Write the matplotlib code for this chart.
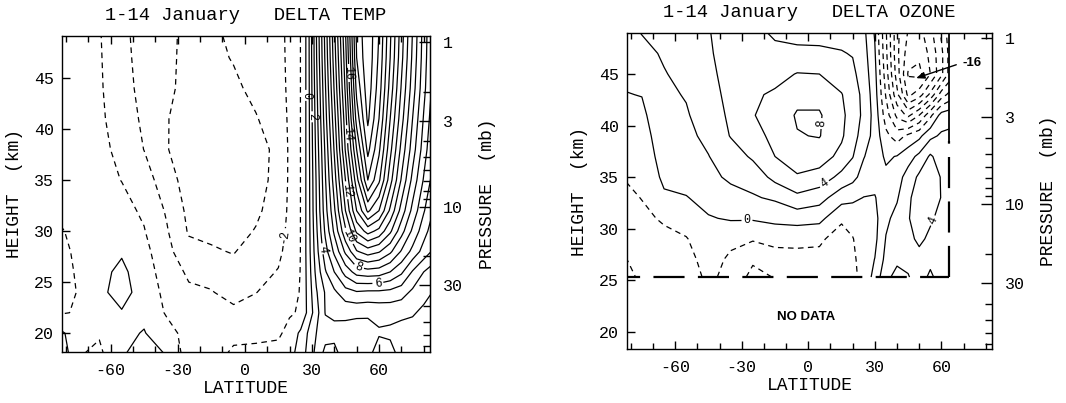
import numpy as np
import matplotlib
matplotlib.use("Agg")
import matplotlib.pyplot as plt
from matplotlib.ticker import FixedLocator, MultipleLocator, NullFormatter

plt.rcParams["font.family"] = ["Liberation Mono", "DejaVu Sans Mono"]

# ---------------------------------------------------------------------------
# Delta temperature (K), 1-14 January
# ---------------------------------------------------------------------------
temp_lat = [-85, -75, -65, -55, -45, -35, -25, -15, -5, 5, 15, 20, 25,
            28, 32, 36, 40, 45, 50, 55, 60, 65, 70, 75, 80, 85]
temp_height = [18, 20, 22, 24, 26, 28, 30, 32, 35, 38, 41, 44, 47, 50]
# one vertical profile per latitude (bottom to top)
temp_profiles = [
    [1.5, 0.6, -1.2, -1.6, -1.6, -1.5, -1.2, -0.9, -0.8, -0.7, -0.65, -0.6, -0.6, -0.6],
    [-0.9, -0.7, -0.9, -0.98, -0.9, -0.8, -0.75, -0.7, -0.65, -0.6, -0.55, -0.5, -0.5, -0.5],
    [-1.2, -0.9, -0.6, -0.15, -0.25, -0.5, -0.6, -0.65, -0.7, -0.8, -0.85, -0.9, -0.92, -0.95],
    [-0.1, -0.2, -0.05, 0.25, 0.2, -0.1, -0.4, -0.7, -1.02, -1.2, -1.4, -1.5, -1.6, -1.7],
    [0.4, 0.05, -0.2, -0.3, -0.5, -0.7, -0.95, -1.15, -1.5, -2.02, -2.2, -2.4, -2.5, -2.55],
    [-0.05, -0.6, -1.1, -1.3, -1.5, -1.7, -1.9, -2.1, -2.6, -2.95, -2.95, -2.8, -2.75, -2.8],
    [-1.5, -1.4, -1.6, -1.85, -2.15, -2.7, -3.1, -3.25, -3.4, -3.45, -3.4, -3.3, -3.3, -3.2],
    [-1.5, -1.6, -1.75, -1.95, -2.3, -2.9, -3.2, -3.35, -3.5, -3.55, -3.5, -3.35, -3.2, -3.1],
    [-0.8, -1.3, -1.8, -2.3, -2.7, -3.05, -3.3, -3.45, -3.5, -3.45, -3.35, -3.15, -2.95, -2.85],
    [-0.8, -1.2, -1.6, -2.02, -2.3, -2.6, -2.95, -3.15, -3.3, -3.3, -3.05, -2.8, -2.6, -2.5],
    [-0.7, -1.15, -1.4, -1.65, -1.95, -2.2, -2.4, -2.6, -2.75, -2.8, -2.6, -2.4, -2.3, -2.25],
    [-0.4, -0.7, -1.1, -1.3, -1.5, -1.65, -1.75, -1.8, -1.85, -1.85, -1.82, -1.8, -1.8, -1.8],
    [0.5, 0.2, -0.9, -0.95, -0.97, -0.98, -0.98, -0.98, -0.98, -0.98, -0.98, -0.98, -0.98, -0.98],
    [1.2, 1.0, 0.15, 0.2, 0.25, 0.3, 0.3, 0.3, 0.3, 0.3, 0.3, 0.3, 0.3, 0.3],
    [2.3, 2.0, 1.6, 1.9, 2.3, 2.6, 2.8, 3.0, 3.1, 3.3, 3.5, 3.7, 3.9, 4.0],
    [3.3, 2.6, 3.05, 3.1, 3.9, 4.6, 5.2, 5.6, 5.9, 6.2, 6.6, 6.9, 7.2, 7.4],
    [3.3, 2.7, 3.2, 3.8, 5.0, 6.2, 7.2, 7.8, 8.5, 9.1, 9.6, 10.1, 10.5, 10.8],
    [2.5, 2.6, 3.25, 4.6, 6.4, 8.2, 9.8, 11.0, 12.0, 13.1, 13.6, 14.2, 14.6, 15.0],
    [2.3, 2.5, 3.2, 4.9, 7.4, 9.9, 12.2, 14.0, 15.6, 17.0, 18.4, 19.3, 20.0, 20.3],
    [2.7, 2.6, 3.15, 4.8, 7.6, 10.5, 13.4, 16.2, 19.0, 20.3, 21.2, 21.6, 21.8, 21.8],
    [3.5, 2.9, 3.25, 4.8, 7.5, 10.1, 12.7, 15.0, 17.2, 18.2, 19.0, 19.5, 19.8, 20.0],
    [3.4, 2.8, 3.3, 4.7, 7.0, 9.2, 11.2, 12.8, 14.4, 15.3, 16.0, 16.6, 17.0, 17.2],
    [2.6, 2.5, 3.3, 4.4, 6.2, 7.9, 9.4, 10.6, 11.9, 12.7, 13.4, 13.9, 14.3, 14.5],
    [2.4, 2.6, 3.1, 3.8, 4.9, 6.7, 7.8, 8.7, 9.7, 10.5, 11.0, 11.5, 11.8, 12.0],
    [2.5, 2.7, 2.8, 3.3, 4.0, 5.6, 6.4, 7.1, 7.9, 8.5, 8.9, 9.3, 9.5, 9.6],
    [2.5, 2.6, 2.5, 2.9, 3.4, 4.7, 5.3, 5.8, 6.4, 6.8, 7.1, 7.4, 7.5, 7.6],
]
temp_levels = list(range(-3, 23))
temp_label_levels = [-2, 0, 2, 4, 6, 8, 10, 12, 14, 16]
temp_label_spots = [(18, 29.4), (26.8, 43.3), (30.5, 41.2), (36.6, 28.3),
                    (59.5, 25.0), (51, 26.6), (46.4, 29.5), (45.5, 34.0),
                    (46, 39.5), (47, 45.5)]

# ---------------------------------------------------------------------------
# Delta ozone (%), 1-14 January -- data only above 30 mb and south of 63.5N
# ---------------------------------------------------------------------------
ozone_lat = [-85, -75, -65, -55, -45, -35, -25, -15, -5, 5, 15, 20, 25,
             30, 35, 40, 45, 50, 55, 60, 63.5]
ozone_height = [25.3, 27, 29, 31, 33, 35, 37, 39, 41, 43, 45, 47, 49.5]
ozone_profiles = [
    [-5.0, -4.4, -3.6, -3.0, -2.5, -2.05, -1.6, -1.1, -0.6, -0.1, 0.3, 0.8, 1.4],
    [-3.6, -3.2, -2.8, -2.35, -1.95, -1.55, -1.15, -0.8, -0.4, 0.05, 0.7, 1.5, 2.2],
    [-3.3, -2.9, -2.4, -1.8, -0.3, 0.4, 0.8, 1.1, 1.4, 1.7, 1.9, 2.2, 2.5],
    [-3.0, -2.6, -2.1, -1.2, -0.1, 0.8, 1.3, 1.6, 1.85, 2.1, 2.5, 2.9, 3.1],
    [-1.6, -1.3, -0.9, -0.15, 0.7, 1.4, 1.95, 2.4, 2.8, 3.2, 3.55, 3.8, 3.95],
    [-2.6, -2.3, -1.6, 0.2, 1.2, 2.4, 3.0, 4.1, 4.4, 4.6, 4.7, 4.7, 4.6],
    [-4.6, -3.7, -1.8, 0.2, 1.8, 2.8, 4.3, 5.2, 5.9, 5.7, 5.0, 4.6, 4.3],
    [-3.9, -3.0, -1.3, 0.5, 2.3, 4.6, 6.0, 6.6, 6.8, 6.3, 5.3, 4.4, 3.6],
    [-3.2, -2.6, -1.5, 0.8, 3.5, 5.8, 7.0, 7.9, 8.2, 7.4, 6.1, 4.4, 3.2],
    [-2.9, -2.5, -1.7, 0.6, 2.8, 5.2, 7.0, 8.1, 8.2, 7.4, 6.0, 4.3, 3.3],
    [-3.5, -3.2, -2.8, -1.7, 0.8, 3.4, 5.4, 6.3, 6.5, 6.1, 5.0, 4.1, 3.3],
    [-2.6, -2.4, -2.1, -1.2, 0.4, 2.6, 4.1, 4.7, 5.0, 4.9, 4.4, 3.9, 3.2],
    [-1.2, -1.1, -0.9, -0.5, -0.05, 1.2, 2.1, 3.2, 3.6, 3.5, 3.1, 2.8, 2.4],
    [0.6, 0.05, -0.5, -0.6, -0.1, 0.6, 1.0, 1.2, 1.2, 0.9, 0.6, 0.2, -0.3],
    [3.6, 2.6, 2.1, 1.6, 1.0, 0.4, -0.3, -1.5, -3.0, -4.2, -5.0, -5.5, -5.8],
    [4.5, 3.7, 3.0, 2.6, 1.8, 1.2, 0.1, -3.0, -6.5, -9.5, -11.0, -11.5, -11.5],
    [4.1, 3.6, 3.6, 3.9, 3.7, 2.8, 1.2, -1.5, -8.5, -14.5, -16.2, -15.0, -14.0],
    [3.3, 3.5, 4.3, 4.7, 4.8, 4.4, 2.5, -0.5, -6.0, -13.0, -16.6, -15.5, -14.5],
    [4.3, 3.6, 3.7, 4.2, 4.7, 4.8, 4.3, 1.5, -2.5, -9.5, -14.0, -13.5, -12.5],
    [3.3, 3.2, 3.3, 3.6, 3.95, 3.9, 3.0, 2.3, 0.8, -5.0, -10.5, -10.5, -9.5],
    [3.0, 3.0, 3.0, 3.2, 3.4, 3.4, 3.0, 2.4, 1.2, -3.5, -7.5, -7.5, -7.0],
]
ozone_levels = list(range(-16, 10, 2))
ozone_label_levels = [0, 4, 8, 4]
ozone_label_spots = [(-27.6, 30.4), (7.1, 34.4), (5.6, 40.2), (57.0, 30.7)]
ozone_min_level = -16
ozone_min_spot = (48.6, 44.6)

# axis annotation
lat_ticks = [-60, -30, 0, 30, 60]
lat_ticklabels = ["-60", "-30", "0", "30", "60"]
height_ticks = [20, 25, 30, 35, 40, 45]
pressure_ticks = [1, 3, 10, 30]
pressure_minor = [2, 4, 5, 6, 7, 8, 9, 20, 40, 50, 60, 70]

# log-pressure height: z = Z1 - H ln(p)
SCALE_H = 7.0
Z1 = 48.5


def z_to_p(z):
    return np.exp((Z1 - np.asarray(z, dtype=float)) / SCALE_H)


def p_to_z(p):
    p = np.clip(np.asarray(p, dtype=float), 1e-6, None)
    return Z1 - SCALE_H * np.log(p)


def line_style(level):
    return (0, (4.5, 3.5)) if level < 0 else "solid"


def draw_field(ax, lat, height, profiles, levels, label_levels, label_spots):
    grid = np.array(profiles).T
    labelled = sorted(set(label_levels))
    plain = [lev for lev in levels if lev not in labelled]
    ax.contour(lat, height, grid, levels=plain, colors="k", linewidths=0.9,
               linestyles=[line_style(lev) for lev in plain])
    for lev in labelled:
        spots = [s for l, s in zip(label_levels, label_spots) if l == lev]
        cs = ax.contour(lat, height, grid, levels=[lev], colors="k",
                        linewidths=0.9, linestyles=[line_style(lev)])
        ax.clabel(cs, manual=spots, inline=True, inline_spacing=2,
                  fontsize=8.5, fmt="%d")


def frame(ax, ylim, title):
    ax.set_xlim(-81.7, 82.8)
    ax.set_ylim(*ylim)
    ax.set_xticks(lat_ticks)
    ax.set_xticklabels(lat_ticklabels)
    ax.xaxis.set_minor_locator(MultipleLocator(10))
    ax.set_yticks(height_ticks)
    ax.set_yticklabels([str(h) for h in height_ticks])
    ax.tick_params(axis="both", which="both", direction="in", top=True,
                   right=False, labelsize=12, width=1)
    ax.tick_params(axis="x", which="major", length=6, pad=8)
    ax.tick_params(axis="x", which="minor", length=4)
    ax.tick_params(axis="y", which="major", length=6, pad=6)
    for sp in ax.spines.values():
        sp.set_linewidth(1.0)

    sec = ax.secondary_yaxis("right", functions=(z_to_p, p_to_z))
    sec.yaxis.set_major_locator(FixedLocator(pressure_ticks))
    sec.set_yticklabels([str(p) for p in pressure_ticks])
    sec.yaxis.set_minor_locator(FixedLocator(pressure_minor))
    sec.yaxis.set_minor_formatter(NullFormatter())
    sec.tick_params(axis="y", which="both", direction="in", labelsize=12, width=1)
    sec.tick_params(axis="y", which="major", length=8, pad=9)
    sec.tick_params(axis="y", which="minor", length=5)

    ax.text(0.5, 1.066, title, transform=ax.transAxes, ha="center",
            va="center", fontsize=13.5)
    ax.text(0.5, -0.115, "LATITUDE", transform=ax.transAxes, ha="center",
            va="center", fontsize=13)
    ax.text(-0.13, 0.5, "HEIGHT  (km)", transform=ax.transAxes, ha="center",
            va="center", rotation=90, fontsize=13)
    ax.text(1.155, 0.5, "PRESSURE  (mb)", transform=ax.transAxes, ha="center",
            va="center", rotation=90, fontsize=13)


fig = plt.figure(figsize=(10.66, 4.03), dpi=100)
ax_t = fig.add_axes([62 / 1066, 1 - 352 / 403, 368 / 1066, 316 / 403])
ax_o = fig.add_axes([627 / 1066, 1 - 349 / 403, 365 / 1066, 316 / 403])

# ---- temperature panel ----
frame(ax_t, (18.15, 49.12), "1-14 January   DELTA TEMP")
draw_field(ax_t, temp_lat, temp_height, temp_profiles, temp_levels,
           temp_label_levels, temp_label_spots)

# ---- ozone panel ----
frame(ax_o, (18.32, 48.98), "1-14 January   DELTA OZONE")
draw_field(ax_o, ozone_lat, ozone_height, ozone_profiles, ozone_levels,
           ozone_label_levels, ozone_label_spots)

# edge of the data region
lat_edge = ozone_lat[-1]
z_edge = ozone_height[0]
ax_o.plot([-90, lat_edge], [z_edge, z_edge], color="k", lw=1.6,
          dashes=(14, 6), solid_capstyle="butt")
ax_o.plot([lat_edge, lat_edge], [z_edge, 38.5], color="k", lw=1.6,
          dashes=(14, 6))
ax_o.plot([lat_edge, lat_edge], [38.5, 50], color="k", lw=1.3)

ax_o.text(-1, 21.4, "NO DATA", ha="center", va="center", fontsize=9.5,
          fontweight="bold", family=["Liberation Sans", "DejaVu Sans"])
ax_o.annotate("", xy=ozone_min_spot, xytext=(66.7, 45.9),
              arrowprops=dict(arrowstyle="-|>,head_length=0.5,head_width=0.2",
                              color="k", lw=1.0, shrinkA=0, shrinkB=0))
ax_o.text(69.5, 46.1, f"{ozone_min_level:d}", ha="left", va="center",
          fontsize=9.5, fontweight="bold",
          family=["Liberation Sans", "DejaVu Sans"])

fig.savefig("out.png", dpi=100)
